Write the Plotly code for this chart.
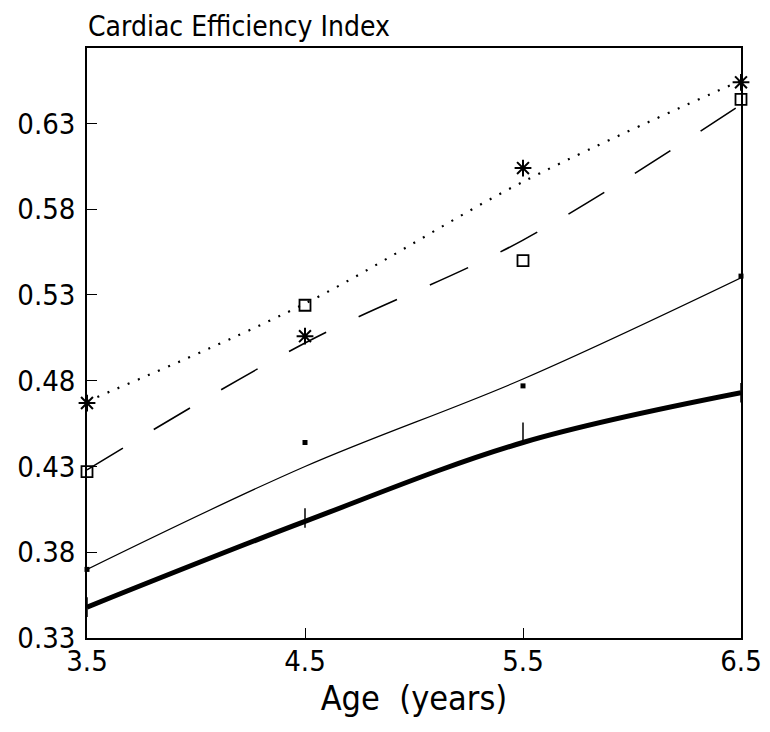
import plotly.graph_objects as go

ages = [3.5, 4.5, 5.5, 6.5]

# Series 1: dotted fitted curve with asterisk observations
obs_star = [0.467, 0.506, 0.604, 0.654]
fit_dotted = [0.468, 0.525, 0.596, 0.655]

# Series 2: long-dashed fitted curve with square observations
obs_square = [0.427, 0.524, 0.550, 0.644]
fit_dashed = [0.428, 0.502, 0.562, 0.641]

# Series 3: thin solid fitted curve with small dot observations
obs_dot = [0.370, 0.444, 0.477, 0.541]
fit_thin = [0.370, 0.430, 0.481, 0.540]

# Series 4: thick solid fitted curve
obs_thick = [0.348, 0.400, 0.450, 0.473]
fit_thick = [0.348, 0.398, 0.444, 0.473]

y_ticks = [0.33, 0.38, 0.43, 0.48, 0.53, 0.58, 0.63]
x_ticks = [3.5, 4.5, 5.5, 6.5]

FONT = "DejaVu Sans Condensed, Liberation Sans Narrow, Arial Narrow, sans-serif"

fig = go.Figure()

fig.add_trace(go.Scatter(x=ages, y=fit_dotted, mode="lines",
                         line=dict(color="black", width=2.2, dash="2px,9px", shape="spline"),
                         showlegend=False))
fig.add_trace(go.Scatter(x=ages, y=fit_dashed, mode="lines",
                         line=dict(color="black", width=1.6, dash="42px,36px", shape="spline"),
                         showlegend=False))
fig.add_trace(go.Scatter(x=ages, y=fit_thin, mode="lines",
                         line=dict(color="black", width=1.2, shape="spline"),
                         showlegend=False))
fig.add_trace(go.Scatter(x=ages, y=fit_thick, mode="lines",
                         line=dict(color="black", width=5, shape="spline"),
                         showlegend=False))

fig.add_trace(go.Scatter(x=ages, y=obs_star, mode="markers",
                         marker=dict(symbol="asterisk-open", size=14, color="black",
                                     line=dict(color="black", width=2)),
                         showlegend=False, cliponaxis=False))
fig.add_trace(go.Scatter(x=ages, y=obs_square, mode="markers",
                         marker=dict(symbol="square-open", size=11, color="black",
                                     line=dict(color="black", width=1.8)),
                         showlegend=False, cliponaxis=False))
fig.add_trace(go.Scatter(x=ages, y=obs_dot, mode="markers",
                         marker=dict(symbol="square", size=5, color="black"),
                         showlegend=False, cliponaxis=False))
fig.add_trace(go.Scatter(x=ages, y=obs_thick, mode="markers",
                         marker=dict(symbol="line-ns-open", size=14, color="black",
                                     line=dict(color="black", width=1.5)),
                         showlegend=False, cliponaxis=False))

fig.update_layout(
    width=770, height=732,
    margin=dict(l=79, r=37, t=40, b=102, autoexpand=False),
    paper_bgcolor="white", plot_bgcolor="white",
    font=dict(family=FONT, color="black", size=29),
    xaxis=dict(range=[3.5, 6.5], tickvals=x_ticks, ticktext=[f"{v:.1f}" for v in x_ticks],
               ticks="inside", ticklen=10, tickcolor="black", showgrid=False, zeroline=False,
               showline=True, linecolor="black", linewidth=1.5, mirror=True, automargin=False,
               tickfont=dict(size=29, family=FONT), ticklabelstandoff=-4,
               title=dict(text="Age  (years)", font=dict(size=34, family=FONT), standoff=6)),
    yaxis=dict(range=[0.33, 0.674], tickvals=y_ticks, ticktext=[f"{v:.2f}" for v in y_ticks],
               ticks="inside", ticklen=10, tickcolor="black", showgrid=False, zeroline=False,
               showline=True, linecolor="black", linewidth=1.5, mirror=True, automargin=False,
               tickfont=dict(size=29, family=FONT), ticklabelstandoff=4),
    annotations=[dict(text="Cardiac Efficiency Index", x=0, y=1, xref="paper", yref="paper",
                      xanchor="left", yanchor="bottom", yshift=3, xshift=-1, showarrow=False,
                      font=dict(size=28, family=FONT, color="black"))],
)

fig.write_html("out.html")
